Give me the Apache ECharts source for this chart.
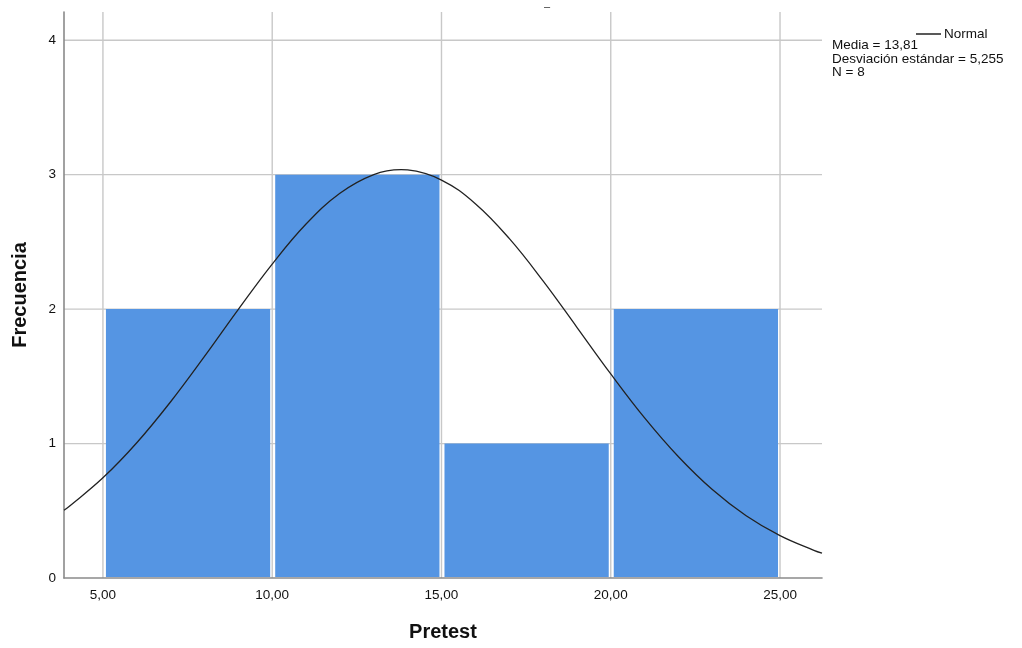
<!DOCTYPE html>
<html>
<head>
<meta charset="utf-8">
<script src="https://cdn.jsdelivr.net/npm/echarts@6/dist/echarts.min.js"></script>
<style>html,body{margin:0;padding:0;background:#fff;}#c{width:1022px;height:648px;}</style>
</head>
<body>
<div id="c"></div>
<script>
// Histogram bins (Pretest) and counts
var binStarts = [5, 10, 15, 20];
var binEnds = [10, 15, 20, 25];
var counts = [2, 3, 1, 2];
// Normal curve points (x, frequency)
var curveX = [3.85, 4, 5, 6, 7, 8, 9, 10, 11, 12, 13, 13.81, 14, 15, 16, 17, 18, 19, 20, 21, 22, 23, 24, 25, 26, 26.24];
var curveY = [0.504, 0.532, 0.745, 1.006, 1.311, 1.648, 1.998, 2.335, 2.633, 2.862, 3.001, 3.037, 3.035, 2.960, 2.784, 2.526, 2.210, 1.865, 1.518, 1.191, 0.902, 0.658, 0.463, 0.315, 0.206, 0.185];
var xTicks = [5, 10, 15, 20, 25];
var yTicks = [1, 2, 3, 4];
var statsLines = ['Media = 13,81', 'Desviación estándar = 5,255', 'N = 8'];

var font = '"Liberation Sans", Arial, sans-serif';
var chart = echarts.init(document.getElementById('c'));

var barData = binStarts.map(function (s, i) { return [s, binEnds[i], counts[i]]; });
var curveData = curveX.map(function (x, i) { return [x, curveY[i]]; });
var X_MIN = 3.85, X_MAX = 26.24, Y_MIN = 0, Y_MAX = 4.21;
var gridColor = '#c8c8c8';

chart.setOption({
  animation: false,
  backgroundColor: '#ffffff',
  textStyle: { fontFamily: font },
  title: [
    { text: '\u2013', left: 539, top: -4, textStyle: { fontFamily: font, fontSize: 11, fontWeight: 'normal', color: '#333' } },
    { text: statsLines.join('\n'), left: 832, top: 39, padding: 0, textStyle: { fontFamily: font, fontSize: 13.5, fontWeight: 'normal', color: '#111', lineHeight: 13.5 } }
  ],
  legend: {
    data: ['Normal'], left: 911, top: 22, icon: 'rect', itemWidth: 25, itemHeight: 1.5, itemGap: 4,
    textStyle: { fontFamily: font, fontSize: 13.5, color: '#111', padding: [0, 0, 0, -2] }
  },
  grid: { left: 64, right: 200, top: 12, bottom: 70, containLabel: false },
  xAxis: {
    type: 'value', min: X_MIN, max: X_MAX,
    name: 'Pretest', nameLocation: 'middle', nameGap: 44,
    nameTextStyle: { fontFamily: font, fontSize: 20, fontWeight: 'bold', color: '#111' },
    axisLine: { show: true, lineStyle: { color: '#8a8a8a', width: 1.6 } },
    axisTick: { show: false },
    splitLine: { show: false },
    axisLabel: {
      customValues: xTicks, margin: 10, fontSize: 13.5, color: '#111', fontFamily: font,
      formatter: function (v) { return v.toFixed(2).replace('.', ','); }
    }
  },
  yAxis: {
    type: 'value', min: Y_MIN, max: Y_MAX, interval: 1,
    name: 'Frecuencia', nameLocation: 'middle', nameGap: 34,
    nameTextStyle: { fontFamily: font, fontSize: 20, fontWeight: 'bold', color: '#111' },
    axisLine: { show: true, lineStyle: { color: '#8a8a8a', width: 1.6 } },
    axisTick: { show: false },
    splitLine: { show: false },
    axisLabel: { showMaxLabel: false, margin: 8, fontSize: 13.5, color: '#111', fontFamily: font }
  },
  series: [
    {
      name: 'vgrid', type: 'custom', z: 0, silent: true,
      data: xTicks,
      renderItem: function (params, api) {
        var v = api.value(0);
        var a = api.coord([v, Y_MIN]), b = api.coord([v, Y_MAX]);
        return { type: 'line', shape: { x1: a[0], y1: a[1], x2: b[0], y2: b[1] }, style: { stroke: gridColor, lineWidth: 1.4 } };
      }
    },
    {
      name: 'hgrid', type: 'custom', z: 0, silent: true,
      data: yTicks.map(function (v) { return [X_MIN, v]; }),
      renderItem: function (params, api) {
        var v = api.value(1);
        var a = api.coord([X_MIN, v]), b = api.coord([X_MAX, v]);
        return { type: 'line', shape: { x1: a[0], y1: a[1], x2: b[0], y2: b[1] }, style: { stroke: gridColor, lineWidth: 1.3 } };
      }
    },
    {
      name: 'Frecuencia', type: 'custom', z: 2,
      data: barData,
      encode: { x: [0, 1], y: 2 },
      renderItem: function (params, api) {
        var p0 = api.coord([api.value(0), api.value(2)]);
        var p1 = api.coord([api.value(1), 0]);
        return {
          type: 'rect',
          shape: { x: p0[0] + 3, y: p0[1], width: p1[0] - p0[0] - 5, height: p1[1] - p0[1] - 1 },
          style: { fill: '#5595e3' }
        };
      }
    },
    {
      name: 'Normal', type: 'line', z: 3, data: curveData, smooth: 0.4, showSymbol: false, symbol: 'none',
      lineStyle: { color: '#222', width: 1.3 }, itemStyle: { color: '#222' }
    }
  ]
});
</script>
</body>
</html>
